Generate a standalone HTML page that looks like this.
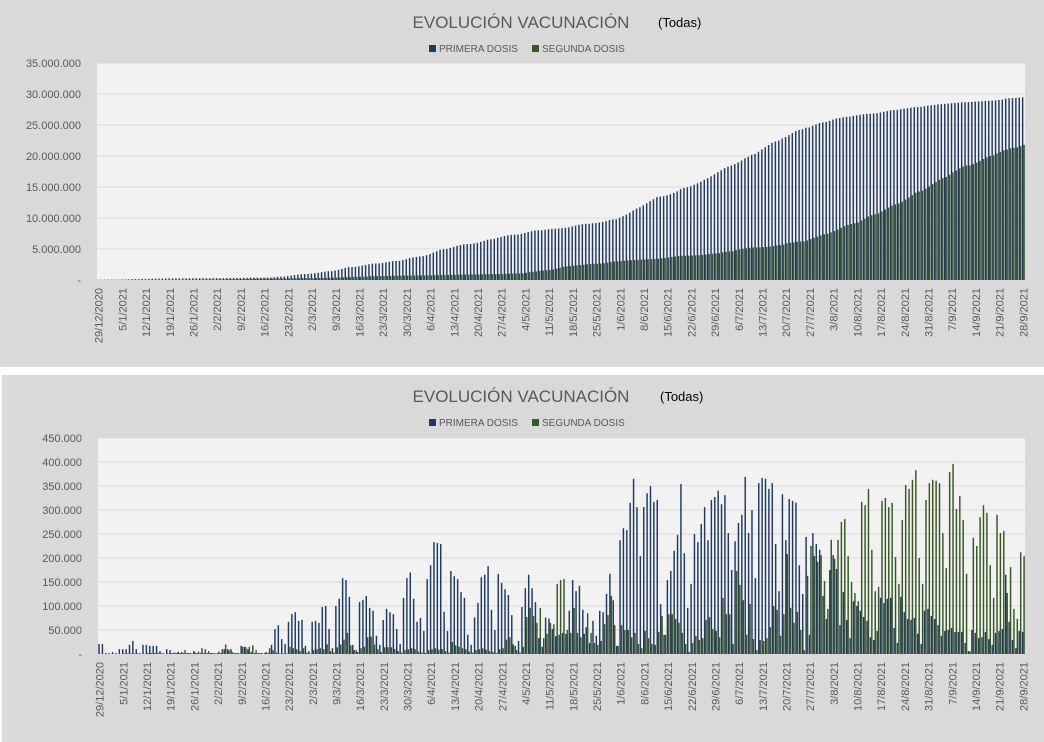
<!DOCTYPE html>
<html><head><meta charset="utf-8">
<style>
body{margin:0;width:1044px;height:742px;background:#fff;overflow:hidden;font-family:"Liberation Sans",sans-serif}
svg{display:block}
</style></head>
<body>
<svg id="root" width="1044" height="742">
<rect x="0" y="0" width="1044" height="367" fill="#d9d9d9"/>
<rect x="2" y="375" width="1042" height="367" fill="#d9d9d9"/>
<g id="top"></g>
<g id="bot"></g>
</svg>
<script>
const blueDaily = [21,21,2,2,4,2,10, 10,10,19,27,10,2,19, 19,17,17,17,6,2,10, 8,2,2,2,2,2,2, 6,2,2,2,2,2,2, 2,2,10,10,10,2,2, 17,15,10,4,2,2,2, 2,2,19,52,60,31,21, 67,83,87,69,71,17,6, 67,69,65,98,100,52,12, 100,115,158,154,119,19,8, 108,113,121,96,90,38,19, 71,94,
87,83,52,21,117,158,170,115,67,75,48,156,185,233,231,229,88,48,173,162,156,129,117,40,19,76,106,160,165,183,92,50,167,148,135,123,81,17,27,98,137,165,137,108,33,15,76,74,52,37,40,44,42,90,154,131,142,92,56,23,69,38,90,87,125,167,112,17,237,262,258,315,365,306,204,306,335,350,317,321,104,40,154,173,215,248,354,210,96,146,250,233,271,306,237,
321,327,340,312,331,252,175,235,273,290,369,252,300,158,356,367,365,344,356,229,131,333,237,323,319,315,185,125,244,40,252,229,217,121,73,175,206,177,60,129,71,33,110,100,90,77,69,35,29,48,117,106,115,117,54,23,119,87,73,71,75,42,21,90,94,79,73,60,38,48,50,54,46,46,46,23,6,50,44,33,35,46,31,19,44,48,52,165,67,29,12,48,46];
const greenDaily = [0,0,0,0,0,0,0, 1,1,1,1,1,0,0, 2,2,2,2,1,0,1, 2,3,5,4,8,2,1, 3,5,12,10,6,2,1, 5,10,20,8,4,2,1, 15,14,15,18,8,2,1, 4,12,8,3,1,1,1, 15,12,10,6,12,3,1, 8,10,12,10,20,6,3, 14,20,30,44,18,8,4, 12,15,35,36,20,10,4, 14,14,
14,10,6,3,8,10,12,10,5,3,2,8,10,12,9,10,6,3,25,18,15,12,10,5,3,8,10,12,9,6,4,2,10,12,30,35,20,8,3,
15,77,96,79,65,96,33,42,65,62,146,154,156,50,44,96,44,35,42,85,44,23,19,27,62,81,121,60,17,60,50,50,35,44,21,12,48,33,21,19,46,79,40,83,83,73,65,44,21,4,23,38,29,33,71,77,
52,48,35,117,83,83,21,173,144,112,40,104,31,8,29,27,33,56,100,92,38,83,208,96,65,88,50,8,163,225,204,192,206,152,94,238,198,238,275,281,204,150,127,110,317,310,344,217,131,140,319,325,306,315,202,146,279,352,344,363,383,200,146,321,356,363,361,356,252,179,379,396,302,329,279,167,6,242,225,285,310,294,185,117,290,252,256,127,181,94,73,212,204];
const topTicks = [0,5000000,10000000,15000000,20000000,25000000,30000000,35000000];
const botTicks = [0,50000,100000,150000,200000,250000,300000,350000,400000,450000];
const startDate = [2020,11,29];
const NS="http://www.w3.org/2000/svg";
function mk(p,tag,attrs){const e=document.createElementNS(NS,tag);for(const k in attrs)e.setAttribute(k,attrs[k]);p.appendChild(e);return e;}
function fmt(v){return v===0?"-":v.toLocaleString("de-DE");}
const nDays=Math.max(blueDaily.length,greenDaily.length);
const dates=[];for(let i=0;i<nDays;i++){const d=new Date(startDate[0],startDate[1],startDate[2]+i);dates.push(d.getDate()+"/"+(d.getMonth()+1)+"/"+d.getFullYear());}
let cb=0,cg=0;const blueCum=[],greenCum=[];
for(let i=0;i<nDays;i++){cb+=(blueDaily[i]||0)*1000;cg+=(greenDaily[i]||0)*1000;blueCum.push(cb);greenCum.push(cg);}

function chart(g,o){
  const {x0,x1,y0,y1,max,ticks,blue,green,ty}=o;
  const yS=v=>y1-(v/max)*(y1-y0);
  const slot=(x1-x0)/nDays;
  const xS=i=>x0+i*slot;
  const bg=mk(g,"rect",{x:x0,y:y0,width:x1-x0,height:y1-y0,fill:"#f2f2f2"});
  
  
  ticks.forEach(t=>{
    const l=mk(g,"line",{x1:x0,x2:x1,y1:yS(t),y2:yS(t),stroke:"#d9d9d9","stroke-width":1});
    
    
    const tx=mk(g,"text",{x:x0-16,y:yS(t)+4,"text-anchor":"end","font-size":"11",fill:"#595959"});
    tx.textContent=fmt(t);
    
    
  });
  for(let i=0;i<nDays;i++){
    const bv=blue[i]||0, gv=green[i]||0;
    const b=mk(g,"rect",{x:xS(i)+0.3,y:yS(bv),width:1.45,height:y1-yS(bv),fill:"#1f3864"});
    
    
    const gr=mk(g,"rect",{x:xS(i)+1.75,y:yS(gv),width:1.45,height:y1-yS(gv),fill:"#375623"});
    
    
  }
  for(let i=0;i<nDays;i+=7){
    const cx=xS(i)+slot/2+4;
    const t=mk(g,"text",{x:0,y:0,"text-anchor":"end","font-size":"11",fill:"#595959",transform:`translate(${cx},${y1+8}) rotate(-90)`});
    t.textContent=dates[i];
    
    
  }
  const tt=mk(g,"text",{x:521,y:ty,"text-anchor":"middle","font-size":"17",fill:"#595959"});
  tt.textContent="EVOLUCIÓN VACUNACIÓN";
  
  
  const td=mk(g,"text",{x:o.tx,y:ty-1,"font-size":"13",fill:"#000"});
  td.textContent="(Todas)";
  
  
  const ly=ty+24;
  const s1=mk(g,"rect",{x:429,y:ly-7,width:7,height:7,fill:"#1f3864"});
  
  
  const l1=mk(g,"text",{x:439,y:ly,"font-size":"10",fill:"#595959"});l1.textContent="PRIMERA DOSIS";
  
  
  const s2=mk(g,"rect",{x:532,y:ly-7,width:7,height:7,fill:"#375623"});
  
  
  const l2=mk(g,"text",{x:542,y:ly,"font-size":"10",fill:"#595959"});l2.textContent="SEGUNDA DOSIS";
  
  
}
chart(document.getElementById("top"),{x0:97,x1:1025,y0:63,y1:280,max:35000000,ticks:topTicks,blue:blueCum,green:greenCum,ty:28,tx:658});
chart(document.getElementById("bot"),{x0:98,x1:1025,y0:438,y1:654,max:450000,ticks:botTicks,blue:blueDaily.map(v=>v*1000),green:greenDaily.map(v=>v*1000),ty:402,tx:660});
</script>
</body></html>
